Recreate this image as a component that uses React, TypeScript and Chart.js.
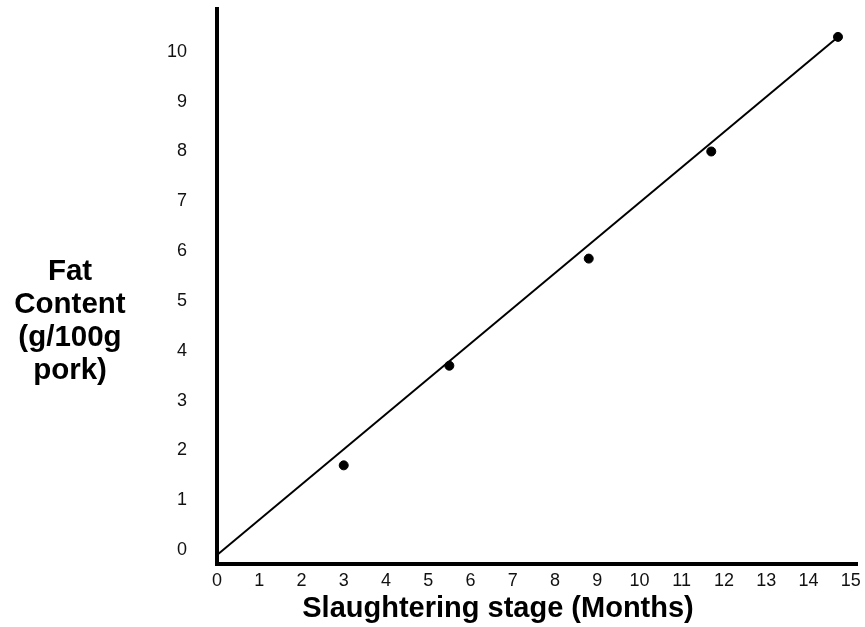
import React, { useEffect, useRef } from "react";
import { Chart, registerables } from "chart.js";

Chart.register(...registerables);

// ---- data ----
const xTickValues = [0, 1, 2, 3, 4, 5, 6, 7, 8, 9, 10, 11, 12, 13, 14, 15];
const yTickValues = [0, 1, 2, 3, 4, 5, 6, 7, 8, 9, 10];
const months = [3, 5.5, 8.8, 11.7, 14.7];
const fatContent = [1.7, 3.7, 5.85, 8.0, 10.3];
const trendMonths = [0, 14.7];
const trendFat = [-0.1, 10.3];
const xTitle = "Slaughtering stage (Months)";
const yTitleLines = ["Fat", "Content", "(g/100g", "pork)"];

const FONT = "'Liberation Sans', Arial, Helvetica, sans-serif";

export default function App() {
  const canvasRef = useRef<HTMLCanvasElement | null>(null);

  useEffect(() => {
    if (!canvasRef.current) return;
    const chart = new Chart(canvasRef.current, {
      type: "scatter",
      data: {
        datasets: [
          {
            type: "line",
            label: "trend",
            data: trendMonths.map((x, i) => ({ x, y: trendFat[i] })),
            borderColor: "#000",
            borderWidth: 2,
            pointRadius: 0,
            fill: false,
            order: 2,
          },
          {
            label: "Fat content",
            data: months.map((x, i) => ({ x, y: fatContent[i] })),
            backgroundColor: "#000",
            borderColor: "#000",
            pointRadius: 4.5,
            pointHoverRadius: 4.5,
            order: 1,
          },
        ],
      },
      options: {
        animation: false,
        responsive: false,
        maintainAspectRatio: false,
        layout: { padding: { top: 9, right: 8, bottom: 0, left: 0 } },
        plugins: {
          legend: { display: false },
          tooltip: { enabled: false },
        },
        scales: {
          x: {
            type: "linear",
            min: 0,
            max: 15.15,
            afterBuildTicks: (scale: any) => {
              scale.ticks = xTickValues.map((v) => ({ value: v }));
            },
            afterFit: (scale: any) => {
              scale.height = 63;
              scale.paddingLeft = 0;
              scale.paddingRight = 0;
            },
            grid: { display: false, drawTicks: false },
            border: { display: true, color: "#000", width: 4 },
            ticks: {
              padding: 6,
              color: "#111",
              font: { family: FONT, size: 18 },
              maxRotation: 0,
              autoSkip: false,
            },
          },
          y: {
            type: "linear",
            min: -0.28,
            max: 10.86,
            afterBuildTicks: (scale: any) => {
              scale.ticks = yTickValues.map((v) => ({ value: v }));
            },
            afterFit: (scale: any) => {
              scale.width = 217;
              scale.paddingTop = 0;
              scale.paddingBottom = 0;
            },
            grid: { display: false, drawTicks: false },
            border: { display: true, color: "#000", width: 4 },
            ticks: {
              padding: 30,
              color: "#111",
              font: { family: FONT, size: 18 },
            },
          },
        },
      },
    });
    return () => chart.destroy();
  }, []);

  return (
    <div style={{ position: "absolute", left: 0, top: 0, width: 865, height: 627, background: "#fff", overflow: "hidden" }}>
      <canvas ref={canvasRef} width={865} height={627} style={{ display: "block" }} />
      <div
        style={{
          position: "absolute",
          left: 0,
          top: 253,
          width: 140,
          textAlign: "center",
          fontFamily: FONT,
          fontWeight: "bold",
          fontSize: 29.5,
          lineHeight: "33px",
          color: "#000",
        }}
      >
        {yTitleLines.map((t) => (
          <div key={t}>{t}</div>
        ))}
      </div>
      <div
        style={{
          position: "absolute",
          left: 498,
          top: 590,
          transform: "translateX(-50%)",
          whiteSpace: "nowrap",
          fontFamily: FONT,
          fontWeight: "bold",
          fontSize: 29,
          lineHeight: "34px",
          color: "#000",
        }}
      >
        {xTitle}
      </div>
    </div>
  );
}
